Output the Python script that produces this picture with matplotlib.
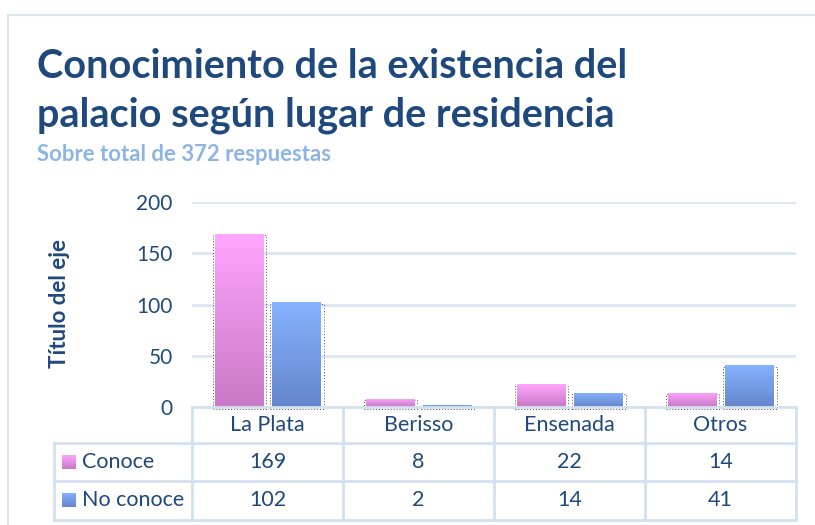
import matplotlib
matplotlib.use("Agg")
import matplotlib.pyplot as plt
import numpy as np
from matplotlib.colors import LinearSegmentedColormap
from matplotlib.patches import Rectangle

categories = ["La Plata", "Berisso", "Ensenada", "Otros"]
conoce = [169, 8, 22, 14]
no_conoce = [102, 2, 14, 41]
series_names = ["Conoce", "No conoce"]
yticks = [0, 50, 100, 150, 200]

title_lines = ["Conocimiento de la existencia del",
               "palacio según lugar de residencia"]
subtitle = "Sobre total de 372 respuestas"
ylabel = "Título del eje"

FONT = ["Lato", "DejaVu Sans"]
plt.rcParams["font.family"] = FONT
DARK = "#1F497D"
LIGHT = "#8DB4E2"
GRID = "#DCE6F2"
TLINE = "#D3E0F0"

W, H = 815, 525
fig = plt.figure(figsize=(W / 100, H / 100), dpi=100)

def fx(px):
    return px / W

def fy(py):
    return 1 - py / H

# outer border
fig.patches.append(Rectangle((fx(8), fy(540)), fx(830), (540 - 15) / H,
                             transform=fig.transFigure, fill=False,
                             edgecolor=GRID, linewidth=1.5, zorder=0))

ax_l, ax_r, ax_t, ax_b = 192, 796, 202, 407
ax = fig.add_axes([fx(ax_l), fy(ax_b), (ax_r - ax_l) / W, (ax_b - ax_t) / H])
ax.set_xlim(-0.5, len(categories) - 0.5)
ax.set_ylim(0, 200)
for s in ax.spines.values():
    s.set_visible(False)
ax.set_yticks(yticks)
ax.set_yticklabels([str(t) for t in yticks])
ax.tick_params(axis="y", length=0, pad=14, labelsize=15, labelcolor=DARK)
ax.set_xticks([])
for t in yticks[1:]:
    ax.axhline(t, color=GRID, linewidth=2, zorder=0.5)

x = np.arange(len(categories))
bw = 0.32
off = 0.19
cmaps = [LinearSegmentedColormap.from_list("p", ["#C878C4", "#FFA6FF"]),
         LinearSegmentedColormap.from_list("b", ["#6486CB", "#86B3FF"])]
grad = np.linspace(0, 1, 256).reshape(-1, 1)
for i, vals in enumerate([conoce, no_conoce]):
    xs = x + (-off if i == 0 else off)
    # dotted shadow outline
    ax.bar(xs + 0.005, vals, bw + 0.035, bottom=-1.5, fill=False,
           edgecolor="#555555", linestyle=(0, (1, 2)), linewidth=0.7,
           zorder=1, clip_on=False)
    bars = ax.bar(xs, vals, bw, color="none", zorder=2)
    for p in bars:
        x0, y0 = p.get_x(), p.get_y()
        w, h = p.get_width(), p.get_height()
        im = ax.imshow(grad, cmap=cmaps[i], origin="lower", aspect="auto",
                       extent=(x0, x0 + w, y0, y0 + h), zorder=2,
                       interpolation="bilinear")
        im.set_clip_path(p)
ax.set_xlim(-0.5, len(categories) - 0.5)
ax.set_ylim(0, 200)

# table
ah = ax_b - ax_t
def ay(py):
    return (ax_b - py) / ah

rows_y = [407, 443, 481, 520]
tab_left = (54 - ax_l) / (ax_r - ax_l)
lk = dict(transform=ax.transAxes, color=TLINE, linewidth=2, clip_on=False, zorder=3)
ax.plot([0, 1], [ay(407), ay(407)], **lk)
for py in rows_y[1:]:
    ax.plot([tab_left, 1], [ay(py), ay(py)], **lk)
for k in range(len(categories) + 1):
    xa = k / len(categories)
    ax.plot([xa, xa], [ay(407), ay(520)], **lk)
ax.plot([tab_left, tab_left], [ay(443), ay(520)], **lk)

TFS = 15.5
tk = dict(transform=ax.transAxes, color=DARK, fontsize=TFS, ha="center",
          va="center", clip_on=False)
for k, c in enumerate(categories):
    xa = (k + 0.5) / len(categories)
    ax.text(xa, ay(425), c, **tk)
    ax.text(xa, ay(462), str(conoce[k]), **tk)
    ax.text(xa, ay(500), str(no_conoce[k]), **tk)

for r, (name, cy) in enumerate(zip(series_names, [462, 500])):
    sq = fig.add_axes([fx(62), fy(cy + 7), 14 / W, 14 / H])
    sq.imshow(grad, cmap=cmaps[r], origin="lower", aspect="auto")
    sq.axis("off")
    fig.text(fx(82), fy(cy), name, color=DARK, fontsize=TFS, va="center",
             ha="left")

for line, base in zip(title_lines, [78, 126]):
    fig.text(fx(37), fy(base), line, color=DARK, fontsize=28.5,
             fontweight="bold", va="baseline", ha="left")
fig.text(fx(37), fy(161), subtitle, color=LIGHT, fontsize=15.9,
         fontweight="bold", va="baseline", ha="left")
fig.text(fx(59), fy(304), ylabel, color=DARK, fontsize=16,
         fontweight="bold", rotation=90, va="center", ha="center")

fig.savefig("out.png", dpi=100)
